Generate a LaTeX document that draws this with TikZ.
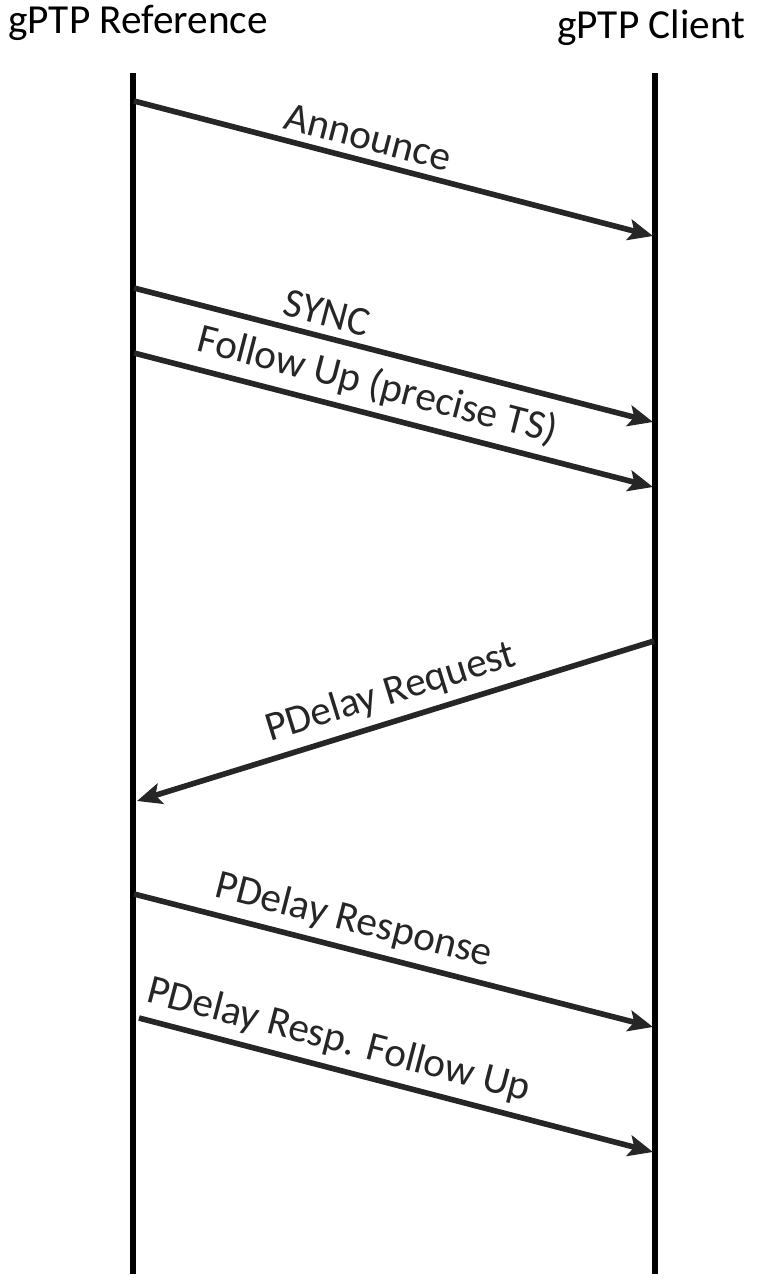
\documentclass[tikz,border=0pt]{standalone}
\usepackage{fontspec}
\setmainfont{Carlito}
\usetikzlibrary{arrows.meta}
\definecolor{msggray}{HTML}{262626}
\tikzset{
  lifeline/.style={line width=3.4pt, black},
  msg/.style={line width=3.2pt, msggray, -{Stealth[length=14pt,width=12pt,inset=3pt]}},
  msglabel/.style={sloped, above, inner sep=4.5pt},
  title/.style={anchor=base west, inner sep=0pt}
}
\begin{document}
\begin{tikzpicture}[x=0.02cm,y=-0.02cm]
                    \useasboundingbox (0,0) rectangle (769,1286);
                    {\fontsize{23.5}{28}\selectfont

                    % Marking the two parties
                    \node [title] (ref) at (8,33) {gPTP Reference};
                    \node [title] (cli) at (557,38) {gPTP Client};

                    % Drawing lifelines
                    \coordinate (reftop) at (133,73);
                    \coordinate (refbot) at (133,1274);
                    \coordinate (clitop) at (655,73);
                    \coordinate (clibot) at (655,1274);
                    \draw [lifeline] (reftop) -- (refbot);
                    \draw [lifeline] (clitop) -- (clibot);

                    % Drawing message Announce
                    \coordinate (annA) at (134,101);
                    \coordinate (annB) at (653,236);
                    \draw [msg] (annA) -- node [msglabel, pos=0.44] (annL) {Announce} (annB);

                    % Drawing message SYNC
                    \coordinate (syncA) at (134,288);
                    \coordinate (syncB) at (653,422);
                    \draw [msg] (syncA) -- node [msglabel, pos=0.36] (syncL) {SYNC} (syncB);

                    % Drawing message Follow Up
                    \coordinate (fupA) at (134,353);
                    \coordinate (fupB) at (653,487);
                    \draw [msg] (fupA) -- node [msglabel, pos=0.455] (fupL) {Follow Up (precise TS)} (fupB);

                    % Drawing message PDelay Request
                    \coordinate (preqA) at (654,641);
                    \coordinate (preqB) at (137,801);
                    \draw [msg] (preqA) -- node [msglabel, pos=0.493] (preqL) {PDelay Request} (preqB);

                    % Drawing message PDelay Response
                    \coordinate (presA) at (134,894);
                    \coordinate (presB) at (653,1027);
                    \draw [msg] (presA) -- node [msglabel, pos=0.41] (presL) {PDelay Response} (presB);

                    % Drawing message PDelay Resp. Follow Up
                    \coordinate (pfupA) at (139,1018);
                    \coordinate (pfupB) at (653,1152);
                    \draw [msg] (pfupA) -- node [msglabel, pos=0.375] (pfupL) {PDelay Resp. Follow Up} (pfupB);
                    }
\end{tikzpicture}
\end{document}
